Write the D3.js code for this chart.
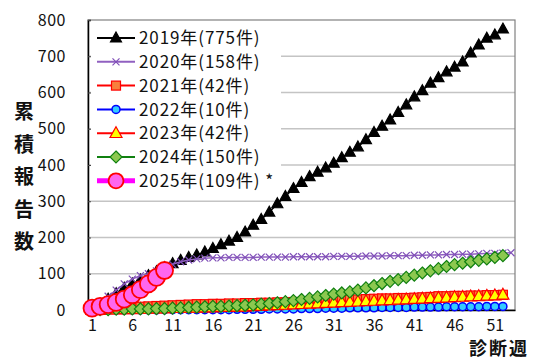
<!DOCTYPE html>
<html><head><meta charset="utf-8">
<script src="https://cdn.jsdelivr.net/npm/d3@7"></script>
<style>body{margin:0;background:#fff}svg{display:block}text{font-family:"Noto Sans CJK JP","Noto Sans",sans-serif;fill:#111}</style>
</head><body><svg id="c" width="534" height="360"></svg>
<script>
const yTicks = [0,100,200,300,400,500,600,700,800];
const xTicks = [1,6,11,16,21,26,31,36,41,46,51];
const labels = ["2019年(775件)","2020年(158件)","2021年(42件)","2022年(10件)","2023年(42件)","2024年(150件)","2025年(109件) *"];
const y2019 = [3,15,30,45,60,72,83,95,106,117,128,137,145,152,160,170,180,190,200,215,234,250,270,293,313,335,352,368,380,392,405,420,435,450,470,490,507,524,545,566,588,605,626,641,657,670,684,709,731,750,759,775];
const y2020 = [3,18,38,55,72,85,95,100,108,117,126,133,138,141,143,144,144,145,145,145,145,146,146,146,146,147,147,147,147,147,148,148,148,148,149,149,149,150,150,150,151,151,152,152,153,153,154,154,155,156,156,157,158];
const y2021 = [2,4,5,6,7,8,9,10,11,12,13,14,15,16,16,17,17,18,18,19,19,20,20,21,21,22,22,23,24,25,26,27,28,29,30,31,32,32,33,33,34,35,36,38,38,39,39,40,40,41,41,42];
const y2022 = [0,0,0,0,0,0,0,0,0,1,1,1,1,1,1,1,1,1,2,2,2,2,3,3,3,3,4,4,4,5,5,5,6,6,6,6,7,7,7,7,8,8,8,8,9,9,9,9,9,10,10,10];
const y2023 = [0,0,1,1,2,2,3,3,4,4,5,5,6,6,7,7,8,8,9,9,10,11,12,13,14,15,16,17,18,19,20,21,22,23,24,25,26,27,28,29,30,31,32,33,34,35,36,37,38,39,40,42];
const y2024 = [0,1,1,2,2,3,3,3,4,4,5,6,7,8,9,10,10,11,12,13,14,16,18,20,23,26,29,32,36,40,44,47,50,55,61,67,73,79,84,90,96,102,108,114,120,125,129,133,137,141,145,150];
const y2025 = [5,10,15,21,30,42,56,72,90,109];

const svg = d3.select("#c");
const L=88,R=515,T=20,B=310;
const x = d3.scaleLinear().domain([0.5,53.5]).range([L,R]);
const y = d3.scaleLinear().domain([0,800]).range([B,T]);

// gridlines
svg.append("g").selectAll("line").data(yTicks.filter(d=>d>0&&d<800)).join("line")
  .attr("x1",L).attr("x2",R).attr("y1",d=>y(d)).attr("y2",d=>y(d))
  .attr("stroke","#c4c4c4").attr("stroke-width",1.5);

// frame
svg.append("rect").attr("x",L).attr("y",T).attr("width",R-L).attr("height",B-T)
  .attr("fill","none").attr("stroke","#808080").attr("stroke-width",1.2);

// y axis
const ya = svg.append("g").attr("transform",`translate(${L},0)`)
  .call(d3.axisLeft(y).tickValues(yTicks).tickSize(-3).tickPadding(22));
ya.select(".domain").attr("stroke","#000").attr("stroke-width",1.5);
ya.selectAll(".tick line").attr("stroke","#444");
ya.selectAll("text").attr("font-size",16).attr("font-family",'"Noto Sans CJK JP",sans-serif').attr("fill","#111").attr("letter-spacing",0.5);

// x axis
const xa = svg.append("g").attr("transform",`translate(0,${B})`)
  .call(d3.axisBottom(x).tickValues(xTicks).tickSize(0).tickPadding(10).tickFormat(d3.format("d")));
xa.select(".domain").attr("stroke","#000").attr("stroke-width",1.5);
xa.selectAll("text").attr("font-size",16).attr("font-family",'"Noto Sans CJK JP",sans-serif').attr("fill","#111");

// axis titles
const yt = "累積報告数".split("");
svg.append("g").selectAll("text").data(yt).join("text")
  .attr("x",24).attr("y",(d,i)=>112+i*32.5).attr("dy","0.35em").attr("text-anchor","middle")
  .attr("font-size",20).attr("font-weight","bold").text(d=>d);
svg.append("text").attr("x",499).attr("y",349).attr("dy","0.35em").attr("text-anchor","middle")
  .attr("font-size",18).attr("font-weight","bold").attr("letter-spacing",2).text("診断週");

const series = [
  {data:y2019, line:"#000", lw:1.5, m:"tri", fill:"#000", stroke:"#000", s:11},
  {data:y2020, line:"#9060c0", lw:1.5, m:"x", fill:"none", stroke:"#8050b8", s:7},
  {data:y2021, line:"#ff0000", lw:1.5, m:"sq", fill:"#f8803c", stroke:"#ff0000", s:9},
  {data:y2022, line:"#0000ff", lw:1.5, m:"circ", fill:"#33ccff", stroke:"#0000ff", s:4},
  {data:y2023, line:"#ff0000", lw:1.5, m:"tri", fill:"#ffff00", stroke:"#ff0000", s:12},
  {data:y2024, line:"#108010", lw:1.5, m:"dia", fill:"#8cc850", stroke:"#108010", s:12},
  {data:y2025, line:"#ff00ff", lw:4, m:"circ", fill:"#ff66ee", stroke:"#ff0000", s:8.5}
];

function marker(g, m, s, fill, stroke){
  if(m==="tri"){
    const h=s*0.9;
    g.append("path").attr("d",`M0,${-h*0.6}L${s/2},${h*0.4}L${-s/2},${h*0.4}Z`).attr("fill",fill).attr("stroke",stroke).attr("stroke-width",1.2);
  } else if(m==="x"){
    g.append("path").attr("d",`M${-s/2},${-s/2}L${s/2},${s/2}M${-s/2},${s/2}L${s/2},${-s/2}`).attr("stroke",stroke).attr("stroke-width",1.2).attr("fill","none");
  } else if(m==="sq"){
    g.append("rect").attr("x",-s/2).attr("y",-s/2).attr("width",s).attr("height",s).attr("fill",fill).attr("stroke",stroke).attr("stroke-width",1.2);
  } else if(m==="circ"){
    g.append("circle").attr("r",s).attr("fill",fill).attr("stroke",stroke).attr("stroke-width",s>6?1.8:1.5);
  } else if(m==="dia"){
    g.append("path").attr("d",`M0,${-s/2}L${s/2},0L0,${s/2}L${-s/2},0Z`).attr("fill",fill).attr("stroke",stroke).attr("stroke-width",1.2);
  }
}

const lineGen = d3.line().x((d,i)=>x(i+1)).y(d=>y(d));
series.forEach(se=>{
  const g = svg.append("g");
  g.append("path").datum(se.data).attr("d",lineGen).attr("fill","none").attr("stroke",se.line).attr("stroke-width",se.lw);
  se.data.forEach((v,i)=>{
    const mg = g.append("g").attr("transform",`translate(${x(i+1)},${y(v)})`);
    marker(mg, se.m, se.s, se.fill, se.stroke);
  });
});

// legend
const lg = svg.append("g");
lg.append("rect").attr("x",91).attr("y",22).attr("width",190).attr("height",172).attr("fill","#fff");
series.forEach((se,i)=>{
  const cy = 38 + i*23.8;
  lg.append("line").attr("x1",97).attr("x2",135).attr("y1",cy).attr("y2",cy).attr("stroke",se.line).attr("stroke-width",se.lw===4?5:2);
  const mg = lg.append("g").attr("transform",`translate(116,${cy})`);
  marker(mg, se.m, se.m==="circ"&&se.s>6?7.5:se.s, se.fill, se.stroke);
  lg.append("text").attr("x",139).attr("y",cy).attr("dy","0.36em").attr("font-size",17).attr("letter-spacing",0.9).text(labels[i]);
});
</script></body></html>
